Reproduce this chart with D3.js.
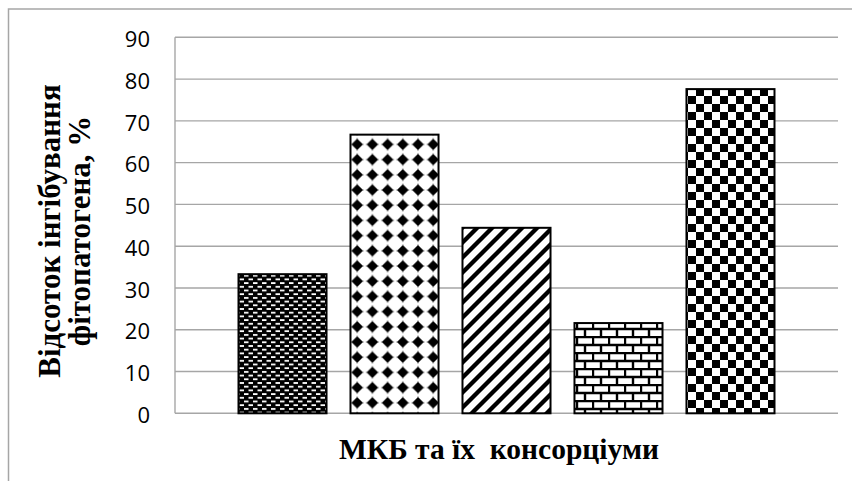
<!DOCTYPE html>
<html><head><meta charset="utf-8">
<script src="https://cdn.jsdelivr.net/npm/d3@7"></script>
<style>body{margin:0;background:#fff;overflow:hidden}</style>
</head><body>
<svg id="c" width="852" height="481"></svg>
<script>
// ---- data ----
const categories = ["МКБ"];
const seriesNames = ["S1", "S2", "S3", "S4", "S5"];
const values = [33.3, 66.7, 44.4, 21.6, 77.6];
const yTicks = [0, 10, 20, 30, 40, 50, 60, 70, 80, 90];
const yTitleLines = ["Відсоток інгібування", "фітопатогена, %"];
const xTitle = "МКБ та їх  консорціуми";

const svg = d3.select("#c");
const plot = {left: 175, right: 838, top: 37.3, bottom: 413.3};

// outer frame
svg.append("rect").attr("x", 8.5).attr("y", 9).attr("width", 860).attr("height", 490)
  .attr("fill", "none").attr("stroke", "#a6a6a6").attr("stroke-width", 1.5);

// ---- patterns ----
const defs = svg.append("defs");
function pat(id, w, h) {
  return defs.append("pattern").attr("id", id).attr("patternUnits", "userSpaceOnUse")
    .attr("width", w).attr("height", h);
}
// 1: black with white dashes
let p = pat("p1", 9, 7.4);
p.append("rect").attr("width", 9).attr("height", 7.4).attr("fill", "#000");
p.append("rect").attr("x", 1).attr("y", 1).attr("width", 4.5).attr("height", 1.8).attr("fill", "#fff");
p.append("rect").attr("x", 5.5).attr("y", 4.7).attr("width", 4.5).attr("height", 1.8).attr("fill", "#fff");
p.append("rect").attr("x", -3.5).attr("y", 4.7).attr("width", 4.5).attr("height", 1.8).attr("fill", "#fff");
// 2: diamonds grid
p = pat("p2", 15.2, 15.2);
p.append("rect").attr("width", 15.2).attr("height", 15.2).attr("fill", "#fff");
p.append("path").attr("d", "M7.6,0.6 L9,6.2 L14.6,7.6 L9,9 L7.6,14.6 L6.2,9 L0.6,7.6 L6.2,6.2 Z M7.6,1.8 L13.4,7.6 L7.6,13.4 L1.8,7.6 Z").attr("fill", "#000");
// 3: wide upward diagonal
p = pat("p3", 15, 15);
p.append("rect").attr("width", 15).attr("height", 15).attr("fill", "#fff");
p.append("path").attr("d", "M0,15 L15,0 M-7.5,7.5 L7.5,-7.5 M7.5,22.5 L22.5,7.5")
  .attr("stroke", "#000").attr("stroke-width", 4.3);
// 4: bricks
p = pat("p4", 16, 16);
p.append("rect").attr("width", 16).attr("height", 16).attr("fill", "#fff");
p.append("path").attr("d", "M0,1 H16 M0,9 H16 M1,0 V9 M9,9 V16")
  .attr("stroke", "#000").attr("stroke-width", 2.4);
// 5: checkerboard
p = pat("p5", 16, 16);
p.append("rect").attr("width", 16).attr("height", 16).attr("fill", "#fff");
p.append("rect").attr("x", 0).attr("y", 0).attr("width", 8).attr("height", 8).attr("fill", "#000");
p.append("rect").attr("x", 8).attr("y", 8).attr("width", 8).attr("height", 8).attr("fill", "#000");
const patIds = ["p1", "p2", "p3", "p4", "p5"];

// ---- scales ----
const y = d3.scaleLinear().domain([0, 90]).range([plot.bottom, plot.top]);
const x0 = d3.scaleBand().domain(categories).range([plot.left, plot.right]).paddingInner(0).paddingOuter(0.092);
const x1 = d3.scaleBand().domain(seriesNames).range([0, x0.bandwidth()]).paddingInner(0.214).paddingOuter(0.107);

// gridlines
svg.append("g").selectAll("line").data(yTicks).join("line")
  .attr("x1", plot.left).attr("x2", plot.right)
  .attr("y1", d => y(d)).attr("y2", d => y(d))
  .attr("stroke", "#a6a6a6").attr("stroke-width", 1.4);
svg.append("line").attr("x1", plot.left).attr("x2", plot.left)
  .attr("y1", plot.top).attr("y2", plot.bottom)
  .attr("stroke", "#a6a6a6").attr("stroke-width", 1.4);

// y axis labels
const yAxis = d3.axisLeft(y).tickValues(yTicks).tickSize(0).tickPadding(25);
const gy = svg.append("g").attr("transform", `translate(${plot.left},0)`).call(yAxis);
gy.select(".domain").remove();
gy.selectAll("text").attr("font-family", "Open Sans, sans-serif").attr("font-size", 22)
  .attr("fill", "#000").attr("dy", "0.42em");

// bars
const g = svg.append("g");
categories.forEach(cat => {
  g.selectAll("rect.bar").data(values).join("rect").attr("class", "bar")
    .attr("x", (d, i) => x0(cat) + x1(seriesNames[i]))
    .attr("width", x1.bandwidth())
    .attr("y", d => y(d))
    .attr("height", d => y(0) - y(d))
    .attr("fill", (d, i) => `url(#${patIds[i]})`)
    .attr("stroke", "#000").attr("stroke-width", 2);
});

// titles
const yt = svg.append("text").attr("transform", "translate(0,231) rotate(-90)")
  .attr("text-anchor", "middle").attr("font-family", "Liberation Serif, Times New Roman, serif")
  .attr("font-weight", "bold").attr("font-size", 31).attr("fill", "#000");
yt.selectAll("tspan").data(yTitleLines).join("tspan")
  .attr("x", 0).attr("y", (d, i) => i === 0 ? 60 : 90).text(d => d);

svg.append("text").attr("x", 499).attr("y", 459).attr("text-anchor", "middle")
  .attr("font-family", "Liberation Serif, Times New Roman, serif").attr("font-weight", "bold")
  .attr("font-size", 29.5).attr("fill", "#000").style("white-space", "pre").text(xTitle);
</script>
</body></html>
